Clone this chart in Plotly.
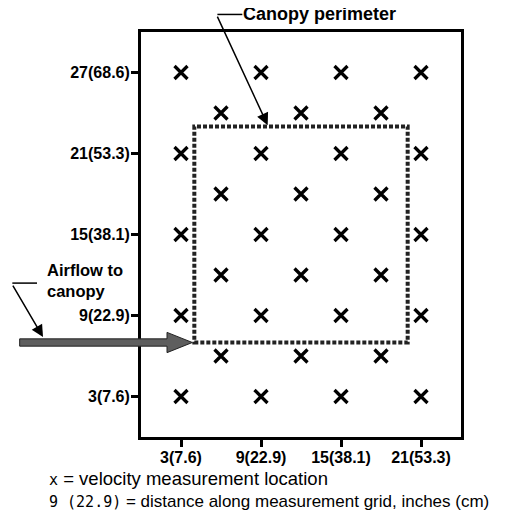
import plotly.graph_objects as go

# ---- data ----
grid_x_main = [3, 9, 15, 21]
grid_y_main = [3, 9, 15, 21, 27]
grid_x_mid = [6, 12, 18]
grid_y_mid = [6, 12, 18, 24]

x_tickvals = [3, 9, 15, 21]
x_ticktext = ["3(7.6)", "9(22.9)", "15(38.1)", "21(53.3)"]
y_tickvals = [3, 9, 15, 21, 27]
y_ticktext = ["3(7.6)", "9(22.9)", "15(38.1)", "21(53.3)", "27(68.6)"]

canopy_x = [4, 20]
canopy_y = [7, 23]

X_RANGE = [0, 24]
Y_RANGE = [0, 30]

# build point lists
pts_x, pts_y = [], []
for yy in grid_y_main:
    for xx in grid_x_main:
        pts_x.append(xx); pts_y.append(yy)
for yy in grid_y_mid:
    for xx in grid_x_mid:
        pts_x.append(xx); pts_y.append(yy)

def px(x):
    return (x - X_RANGE[0]) / (X_RANGE[1] - X_RANGE[0])

def py(y):
    return (y - Y_RANGE[0]) / (Y_RANGE[1] - Y_RANGE[0])

fig = go.Figure()
fig.add_trace(go.Scatter(
    x=pts_x, y=pts_y, mode="markers",
    marker=dict(symbol="x-thin", size=13, line=dict(width=3.3, color="black"), color="black"),
    hoverinfo="skip", showlegend=False))

# canopy perimeter
fig.add_shape(type="rect", xref="x", yref="y",
              x0=canopy_x[0], x1=canopy_x[1], y0=canopy_y[0], y1=canopy_y[1],
              line=dict(color="#222222", width=4, dash="4px,2px"))

# airflow arrow (in data units, converted to paper so it is not clipped)
shaft_x0, head_base, tip = -9.1, 1.95, 3.85
yc, half_shaft, half_head = 7.0, 0.27, 0.75
arrow_pts = [
    (shaft_x0, yc - half_shaft), (head_base, yc - half_shaft), (head_base, yc - half_head),
    (tip, yc), (head_base, yc + half_head), (head_base, yc + half_shaft), (shaft_x0, yc + half_shaft)
]
path = "M " + " L ".join(f"{px(a):.5f},{py(b):.5f}" for a, b in arrow_pts) + " Z"
fig.add_shape(type="path", xref="paper", yref="paper", path=path,
              fillcolor="#5e5e5e", line=dict(color="#222222", width=1))

# Canopy perimeter label
fig.add_shape(type="line", xref="paper", yref="paper",
              x0=px(5.73), x1=px(7.6), y0=py(31.3), y1=py(31.3),
              line=dict(color="black", width=1.5))
fig.add_annotation(x=9.5, y=23.1, xref="x", yref="y", ax=-51, ay=-110,
                   showarrow=True, arrowhead=2, arrowsize=1.6, arrowwidth=1.5,
                   arrowcolor="black", text="")
fig.add_annotation(x=px(7.6), y=py(31.3), xref="paper", yref="paper",
                   xanchor="left", yanchor="middle", showarrow=False, borderpad=0,
                   text="<b>Canopy perimeter</b>",
                   font=dict(family="Liberation Sans, Arial", size=18, color="black"))

# Airflow label
fig.add_shape(type="line", xref="paper", yref="paper",
              x0=px(-9.65), x1=px(-7.8), y0=py(11.4), y1=py(11.4),
              line=dict(color="black", width=1.5))
fig.add_annotation(x=px(-7.35), y=py(7.4), xref="paper", yref="paper", ax=-31, ay=-53,
                   showarrow=True, arrowhead=2, arrowsize=1.6, arrowwidth=1.5,
                   arrowcolor="black", text="")
fig.add_annotation(x=px(-7.2), y=py(11.6), xref="paper", yref="paper",
                   xanchor="left", yanchor="middle", align="left", showarrow=False,
                   text="<b>Airflow to<br>canopy</b>",
                   font=dict(family="Liberation Sans, Arial", size=16.5, color="black"))

# footnotes
fig.add_annotation(x=px(-7.05), y=py(-3.05), xref="paper", yref="paper",
                   xanchor="left", yanchor="middle", showarrow=False,
                   text="<span style='font-family:DejaVu Sans Mono;font-size:15px'>x</span> = velocity measurement location",
                   font=dict(family="Liberation Sans, Arial", size=18.5, color="black"))
fig.add_annotation(x=px(-7.05), y=py(-4.75), xref="paper", yref="paper",
                   xanchor="left", yanchor="middle", showarrow=False,
                   text="<span style='font-family:DejaVu Sans Mono;font-size:15px'>9 (22.9)</span> = distance along measurement grid, inches (cm)",
                   font=dict(family="Liberation Sans, Arial", size=17, color="black"))

axis_common = dict(showline=True, mirror=True, linewidth=3, linecolor="black",
                   ticks="outside", ticklen=7, tickwidth=3, tickcolor="black",
                   showgrid=False, zeroline=False, fixedrange=True,
                   tickfont=dict(family="Liberation Sans, Arial", size=16, color="black", weight="bold"))

fig.update_xaxes(range=X_RANGE, tickvals=x_tickvals, ticktext=x_ticktext,
                 ticklabelstandoff=-3, **axis_common)
fig.update_yaxes(range=Y_RANGE, tickvals=y_tickvals, ticktext=y_ticktext,
                 ticklabelstandoff=-2, **axis_common)

fig.update_layout(width=530, height=518, margin=dict(l=133, r=77, t=24, b=89),
                  paper_bgcolor="white", plot_bgcolor="white", showlegend=False)

fig.write_html("out.html")
